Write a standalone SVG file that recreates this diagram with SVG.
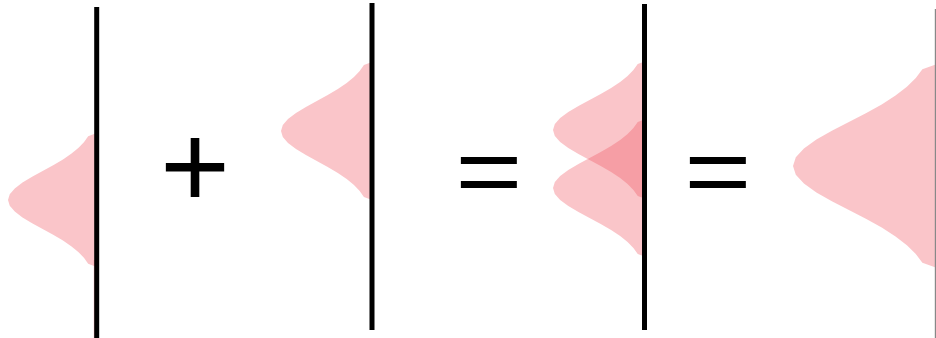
<svg xmlns="http://www.w3.org/2000/svg" xmlns:xlink="http://www.w3.org/1999/xlink" width="936" height="338" viewBox="0 0 936 338">
<style>
.pdf{fill:#f0505a;fill-opacity:0.33}
.axis{stroke:#000;stroke-width:5;fill:none}
.axis4{stroke:#888;stroke-width:1.2;fill:none}
.op{font-family:"Liberation Sans",Arial,sans-serif;font-size:120px;fill:#000;text-anchor:middle}
</style>
<defs>
<path id="g" d="M0,-2.3 L-0.0889,-2.2 L-0.1353,-2 L-0.1979,-1.8 L-0.278,-1.6 L-0.3753,-1.4 L-0.4868,-1.2 L-0.6065,-1 L-0.7262,-0.8 L-0.8353,-0.6 L-0.9231,-0.4 L-0.9802,-0.2 L-1,0 L-0.9802,0.2 L-0.9231,0.4 L-0.8353,0.6 L-0.7262,0.8 L-0.6065,1 L-0.4868,1.2 L-0.3753,1.4 L-0.278,1.6 L-0.1979,1.8 L-0.1353,2 L-0.0889,2.2 L0,2.3 Z"/>
</defs>
<rect width="936" height="338" fill="#fff"/>
<g id="panel1">
<use xlink:href="#g" class="pdf" transform="translate(96,200) scale(88,29)"/>
<line x1="94.3" y1="260" x2="94.3" y2="338" stroke="#f0505a" stroke-opacity="0.45" stroke-width="1"/>
<line class="axis" x1="96.7" y1="7" x2="96.7" y2="338"/>
</g>
<g id="plus"><text class="op" x="195" y="208">+</text></g>
<g id="panel2">
<use xlink:href="#g" class="pdf" transform="translate(372,131) scale(91,30)"/>
<line class="axis" x1="372" y1="3" x2="372" y2="330"/>
</g>
<g id="equals1"><text class="op" x="489" y="211.5" transform="translate(489,172) scale(0.96,0.8) translate(-489,-172)">=</text></g>
<g id="panel3">
<use xlink:href="#g" class="pdf" transform="translate(646,130) scale(93,30)"/>
<use xlink:href="#g" class="pdf" transform="translate(646,188) scale(93,30)"/>
<line class="axis" x1="644.5" y1="4" x2="644.5" y2="330"/>
</g>
<g id="equals2"><text class="op" x="718" y="211.5" transform="translate(718,172) scale(0.96,0.8) translate(-718,-172)">=</text></g>
<g id="panel4">
<use xlink:href="#g" class="pdf" transform="translate(935,166) scale(142,44)"/>
<line class="axis4" x1="935.4" y1="9" x2="935.4" y2="338"/>
</g>
</svg>
